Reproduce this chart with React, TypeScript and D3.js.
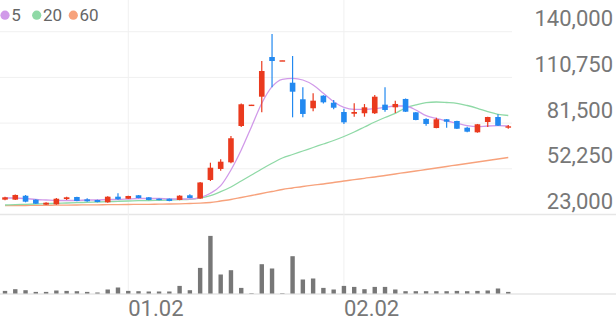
import React from 'react';
import * as d3 from 'd3';

const W = 616;
const H = 321;

const opens = [32500,32500,35000,32500,29300,29500,32900,34200,32700,32300,30800,34400,33100,35300,34000,33100,33100,32300,35300,33250,45100,52150,56400,79650,93250,98400,123800,121600,107350,96750,91000,99050,94550,88600,87500,87800,87800,93300,91600,96950,88400,84150,78350,83950,82850,78550,75600,82200,85400,78550];
const highs = [34400,35800,35500,32700,30800,33600,34400,34400,33400,32500,34650,36600,35050,35500,34200,33250,33250,35300,35950,43800,56150,58350,73250,94050,93350,121250,138550,121750,124450,104400,100600,99300,96300,90700,94200,93700,99500,104400,95850,97250,88600,84600,84950,84150,83050,79200,80950,85600,87150,80300];
const lows = [32100,32300,30800,29700,29100,29300,32300,31450,31200,30800,30550,32500,32900,33400,32100,32100,31450,32100,33400,33100,44450,51050,55800,79000,93250,88400,104400,121600,85200,85200,89050,94050,90350,80900,85600,85600,87350,88800,87950,88600,83300,79850,78200,78550,77700,75600,75350,79000,79650,77900];
const closes = [34000,35500,31200,29900,30550,33100,34000,31650,31450,31000,34400,32750,34850,33550,32300,32300,31650,35050,33550,43500,52950,56800,71800,93550,93300,114850,121250,121700,101600,87350,95850,94800,91350,82000,88600,91600,98400,89900,93750,88800,83500,80950,83950,82400,77900,76000,80750,85400,79850,79450];
const volumes = [260000,430000,330000,160000,160000,300000,260000,230000,160000,100000,400000,600000,260000,230000,200000,200000,200000,760000,330000,2560000,5760000,1900000,2330000,560000,40000,2930000,2500000,40000,3730000,1400000,1500000,560000,400000,760000,660000,430000,660000,660000,400000,230000,230000,230000,230000,230000,260000,230000,260000,300000,500000,160000];
const ma5 = [33568,33568,33248,32608,32288,31968,31968,31968,32288,32288,32608,32608,32928,33248,33248,33248,32928,32928,32928,33800,36576,41440,51488,64288,79200,94176,104800,109536,110176,109088,105888,100576,95200,91616,90336,90336,90720,91616,92448,92448,89888,86240,84576,82848,81376,79840,79200,79648,79840,79648];
const ma20 = [29088,29280,29536,29728,29920,30176,30368,30560,30816,31008,31200,31456,31648,31840,31968,32096,32288,32480,32736,33568,35040,37600,40608,44448,48288,52128,55776,59168,61408,63648,65888,68128,70368,72928,75808,79008,82208,85088,87776,91168,93088,94560,95008,94688,94176,92768,90976,88800,87136,86368];
const ma60 = [28640,28704,28768,28832,28896,28960,29024,29088,29152,29216,29280,29344,29408,29472,29536,29600,29728,29856,30048,30240,30688,31648,32608,33888,35168,36448,37728,39008,39968,40928,41760,42528,43488,44448,45280,46176,47008,47968,48928,49888,50848,51808,52768,53728,54688,55648,56608,57568,58528,59488];

const yTicks = [23000, 52250, 81500, 110750, 140000];
const xTickIdx = [12, 33];
const xTickLabels = ['01.02', '02.02'];
const legendLabels = ['5', '20', '60'];
const legendColors = ['#d19ae9', '#8fd9a6', '#f7a27c'];

const UP = '#ea3a1e';
const DOWN = '#2289f0';
const FONT = 'Roboto, "Noto Sans", sans-serif';

export default function App() {
  const n = closes.length;
  const x = d3.scaleBand<number>().domain(d3.range(n)).range([-0.13, 513.4]);
  const bw = x.bandwidth();
  const cx = (i: number) => (x(i) as number) + bw / 2;
  const y = d3.scaleLinear().domain([23000, 140000]).range([214.5, 31.7]);
  const yv = d3.scaleLinear().domain([0, 6000000]).range([293.5, 233.5]);
  const fmt = d3.format(',');

  const line = d3
    .line<number>()
    .x((_, i) => cx(i))
    .y((d) => y(d))
    .curve(d3.curveMonotoneX);

  const bodyW = 5.6;
  const volW = 4.4;

  return (
    <svg width={W} height={H} style={{ position: 'absolute', left: 0, top: 0, background: '#fff' }}>
      {yTicks.map((t, k) => (
        <line
          key={'g' + t}
          x1={0}
          x2={k === 0 ? W : 512}
          y1={y(t)}
          y2={y(t)}
          stroke={k === 0 ? '#e6e6e6' : '#f0f0f0'}
          strokeWidth={k === 0 ? 1.5 : 1}
        />
      ))}
      {xTickIdx.map((i) => (
        <line key={'v' + i} x1={cx(i)} x2={cx(i)} y1={0} y2={293.5} stroke="#f0f0f0" strokeWidth={1} />
      ))}
      <line x1={0} x2={W} y1={294} y2={294} stroke="#e6e6e6" strokeWidth={1.5} />

      {yTicks.map((t) => (
        <text key={'yl' + t} x={613} y={y(t) - 5.5} textAnchor="end" fontFamily={FONT} fontSize={22} fill="#777">
          {fmt(t)}
        </text>
      ))}
      {xTickIdx.map((i, k) => (
        <text key={'xl' + i} x={cx(i)} y={316} textAnchor="start" fontFamily={FONT} fontSize={22} fill="#777">
          {xTickLabels[k]}
        </text>
      ))}

      <path d={line(ma60) || ''} fill="none" stroke={legendColors[2]} strokeWidth={1.3} />
      <path d={line(ma20) || ''} fill="none" stroke={legendColors[1]} strokeWidth={1.3} />
      <path d={line(ma5) || ''} fill="none" stroke={legendColors[0]} strokeWidth={1.3} />

      {closes.map((c, i) => {
        const o = opens[i];
        const up = c >= o;
        const col = up ? UP : DOWN;
        const top = y(Math.max(o, c));
        const bot = y(Math.min(o, c));
        const h = Math.max(bot - top, 1.4);
        return (
          <g key={'c' + i}>
            <line x1={cx(i)} x2={cx(i)} y1={y(highs[i])} y2={y(lows[i])} stroke={col} strokeWidth={1.2} />
            <rect x={cx(i) - bodyW / 2} y={top} width={bodyW} height={h} fill={col} />
          </g>
        );
      })}

      {volumes.map((v, i) => (
        <rect key={'vb' + i} x={cx(i) - volW / 2} y={yv(v)} width={volW} height={yv(0) - yv(v)} fill="#777" />
      ))}

      {legendLabels.map((l, k) => {
        const offs = [5, 36.7, 73.3];
        return (
          <g key={'lg' + l}>
            <circle cx={offs[k]} cy={15.2} r={4.6} fill={legendColors[k]} />
            <text x={offs[k] + 6.2} y={21} fontFamily={FONT} fontSize={17} fill="#666">
              {l}
            </text>
          </g>
        );
      })}
    </svg>
  );
}
